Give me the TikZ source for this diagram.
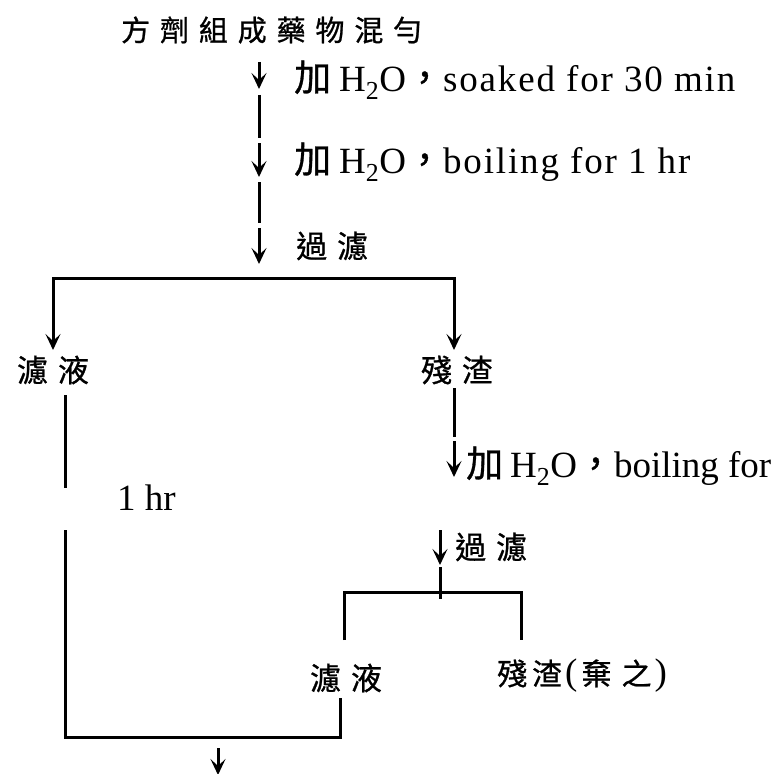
\documentclass[tikz,border=0pt]{standalone}
\usepackage{fontspec}
\setmainfont{Liberation Serif}
\newfontfamily\latsp[LetterSpace=5]{Liberation Serif}
\newfontfamily\latn{Liberation Serif}
\newfontfamily\cjk[FakeBold=0.8]{Noto Sans CJK TC}
\newfontfamily\cjkt[LetterSpace=34,FakeBold=0.8]{Noto Sans CJK TC}
\newfontfamily\cjks[LetterSpace=32,FakeBold=0.8]{Noto Sans CJK TC}
\usetikzlibrary{arrows.meta}
\begin{document}
\begin{tikzpicture}[x=1pt,y=-1pt,
  ln/.style={line width=3pt},
  arr/.style={line width=3pt,-{Stealth[length=16pt,width=15pt,inset=7pt]}},
  lab/.style={anchor=west,inner sep=0pt,font=\fontsize{37}{40}\latsp},
  labn/.style={anchor=west,inner sep=0pt,font=\fontsize{37}{40}\latn},
  cj/.style={inner sep=0pt,font=\fontsize{31}{34}\cjks},
  cjp/.style={inner sep=0pt,font=\fontsize{30}{34}\cjk},
  cjt/.style={anchor=west,inner sep=0pt,font=\fontsize{29}{31}\cjkt}]
\useasboundingbox (0,0) rectangle (781,773);
\fill[white] (0,0) rectangle (781,773);

% title
\node[cjt] (title) at (121,30) {方劑組成藥物混勻};

% main stem
\coordinate (s0) at (259,62);
\coordinate (s1) at (259,89);
\coordinate (s2) at (259,95);
\coordinate (s3) at (259,138);
\coordinate (s4) at (259,143);
\coordinate (s5) at (259,177);
\coordinate (s6) at (259,182);
\coordinate (s7) at (259,223);
\coordinate (s8) at (259,228);
\coordinate (s9) at (259,264);
\draw[arr] (s0) -- (s1);
\draw[ln] (s2) -- (s3);
\draw[arr] (s4) -- (s5);
\draw[ln] (s6) -- (s7);
\draw[arr] (s8) -- (s9);

\node[lab] (l1) at (294,80) {{\cjk 加}\hspace{8pt}H\textsubscript{2}O{\cjk ，}soaked for 30 min};
\node[lab] (l2) at (294,162) {{\cjk 加}\hspace{8pt}H\textsubscript{2}O{\cjk ，}boiling for 1 hr};
\node[cj,anchor=west] (l3) at (296,246) {過濾};

% first split
\coordinate (sl) at (53,278);
\coordinate (sr) at (454,278);
\draw[ln] (53,320) -- (sl) -- (sr) -- (454,320);
\draw[arr] (53,300) -- (53,350);
\draw[arr] (454,300) -- (454,350);

\node[cj] (f1) at (53,370) {濾液};
\node[cj] (r1) at (457,370) {殘渣};

% left filtrate line
\coordinate (a1) at (65,395);
\coordinate (a2) at (65,488);
\coordinate (a3) at (65,530);
\coordinate (a4) at (65,736);
\draw[ln] (a1) -- (a2);
\draw[ln] (a3) -- (a4);

% residue branch
\coordinate (b1) at (454,388);
\coordinate (b2) at (454,437);
\coordinate (b3) at (454,441);
\coordinate (b4) at (454,477);
\draw[ln] (b1) -- (b2);
\draw[arr] (b3) -- (b4);
\node[labn] (l4) at (466,466) {{\cjk 加}\hspace{7pt}H\textsubscript{2}O{\cjk ，}boiling for};
\node[labn] (l5) at (117,498) {1 hr};

\coordinate (c1) at (440,530);
\coordinate (c2) at (440,565);
\coordinate (c3) at (440,567);
\coordinate (c4) at (440,599);
\draw[arr] (c1) -- (c2);
\draw[ln] (c3) -- (c4);
\node[cj,anchor=west] (l6) at (455,547) {過濾};

\coordinate (d1) at (344,592);
\coordinate (d2) at (521,592);
\draw[ln] (344,640) -- (d1) -- (d2) -- (521,640);

\node[cj] (f2) at (346,678) {濾液};
\node[cjp,anchor=west] (r2) at (497,676) {殘\hspace{5pt}渣\hspace{3pt}{\fontsize{37}{40}\latn(}\hspace{4pt}棄\hspace{10pt}之\hspace{3pt}{\fontsize{37}{40}\latn)}};

% merge
\coordinate (e1) at (340,698);
\coordinate (e2) at (340,737);
\draw[ln] (e1) -- (e2) -- (a4 |- e2) -- (a4);
\coordinate (g1) at (218,748);
\coordinate (g2) at (218,775);
\draw[arr] (g1) -- (g2);
\end{tikzpicture}
\end{document}
